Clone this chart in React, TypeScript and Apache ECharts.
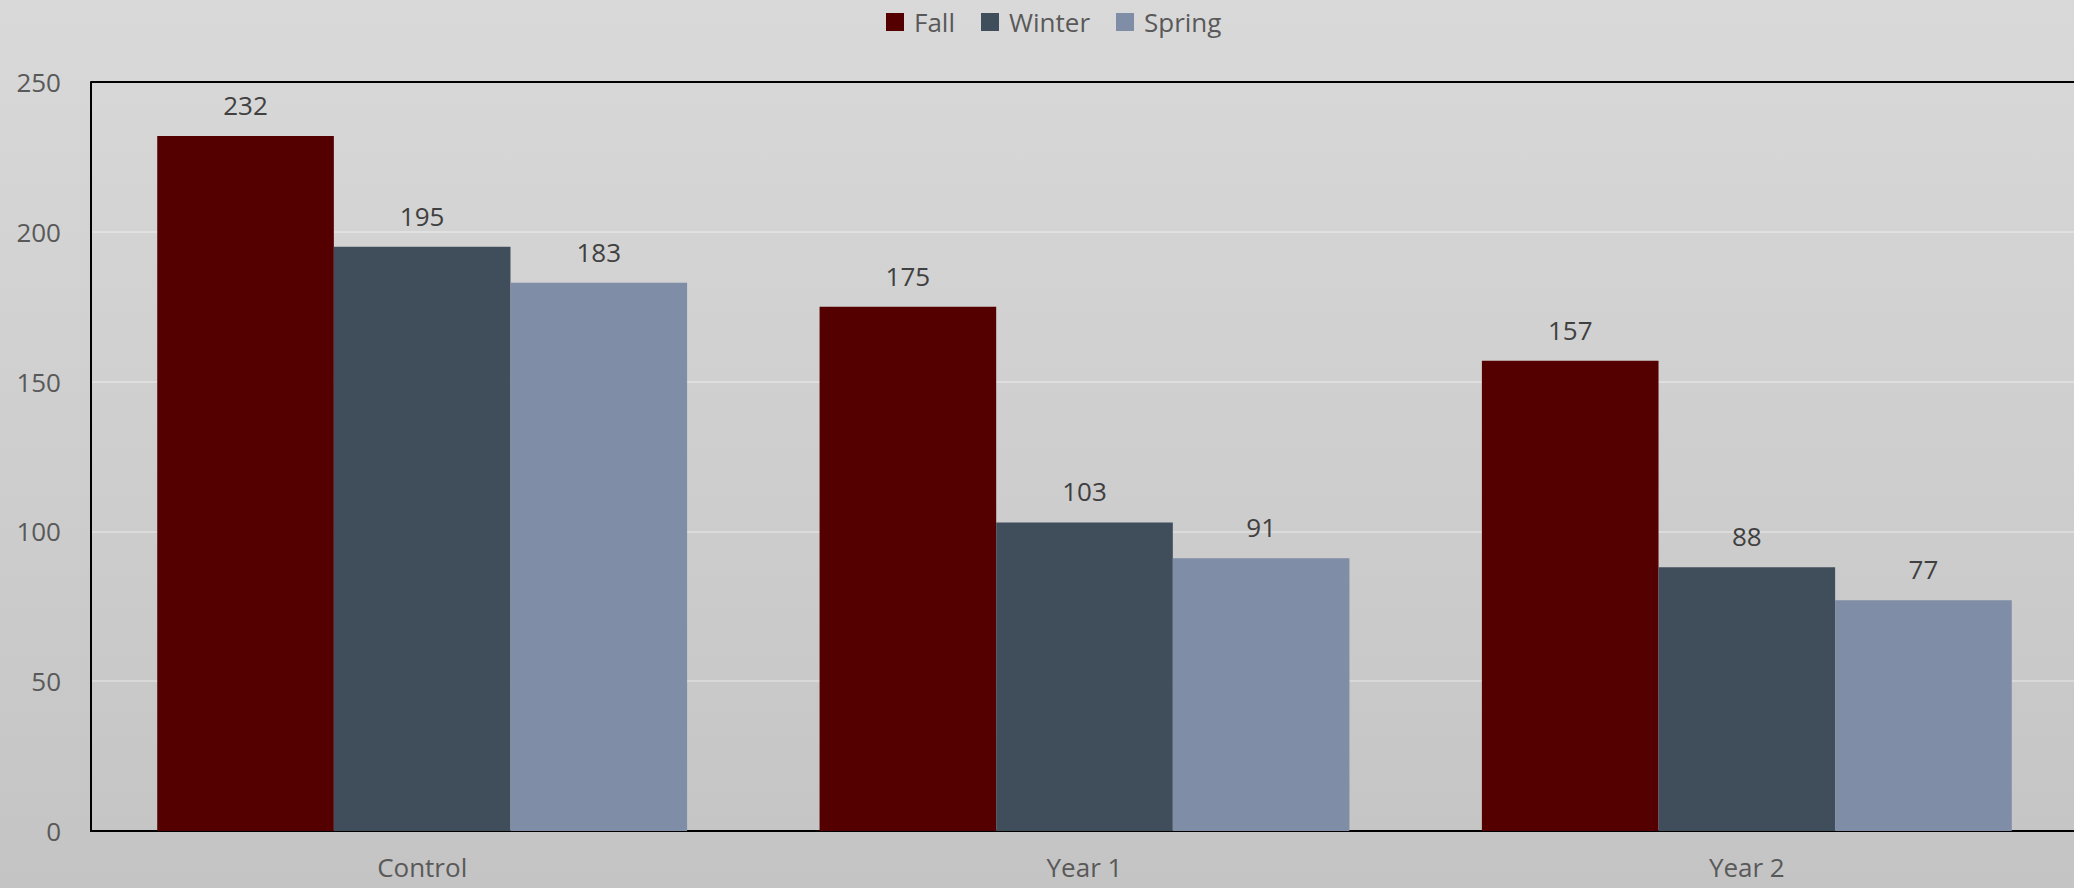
import React, { useEffect, useRef } from "react";
import * as echarts from "echarts";

const categories = ["Control", "Year 1", "Year 2"];
const fall = [232, 175, 157];
const winter = [195, 103, 88];
const spring = [183, 91, 77];
const seriesNames = ["Fall", "Winter", "Spring"];
const colors = ["#550000", "#404D5B", "#7F8DA7"];

const FONT = "'Open Sans', 'Noto Sans', sans-serif";
const GRID_LINE = "rgba(255,255,255,0.3)";

export default function App() {
  const ref = useRef<HTMLDivElement>(null);
  useEffect(() => {
    if (!ref.current) return;
    const chart = echarts.init(ref.current, undefined, { renderer: "svg" });
    const values = [fall, winter, spring];
    chart.setOption({
      animation: false,
      backgroundColor: {
        type: "linear",
        x: 0,
        y: 0,
        x2: 0,
        y2: 1,
        colorStops: [
          { offset: 0, color: "#d9d9d9" },
          { offset: 1, color: "#c4c4c4" },
        ],
      },
      textStyle: { fontFamily: FONT },
      legend: {
        top: 4,
        left: 881,
        itemWidth: 18,
        itemHeight: 18,
        itemGap: 26,
        icon: "rect",
        textStyle: { fontSize: 26, color: "#595959", fontFamily: FONT, padding: [0, 0, 0, 5] },
        data: seriesNames,
      },
      grid: {
        left: 91,
        width: 1987,
        top: 82,
        bottom: 57,
        containLabel: false,
        outerBoundsMode: "none",
      },
      xAxis: {
        type: "category",
        data: categories,
        axisLine: { show: true, lineStyle: { color: "#000000", width: 2 } },
        axisTick: { show: false },
        splitLine: { show: false },
        axisLabel: { fontSize: 26, color: "#595959", margin: 23, fontFamily: FONT },
      },
      yAxis: {
        type: "value",
        min: 0,
        max: 250,
        interval: 50,
        axisLine: { show: true, lineStyle: { color: "#000000", width: 2 } },
        axisTick: { show: false },
        axisLabel: { fontSize: 26, color: "#595959", margin: 30, fontFamily: FONT },
        splitLine: {
          show: true,
          lineStyle: {
            color: [GRID_LINE, GRID_LINE, GRID_LINE, GRID_LINE, GRID_LINE, "#000000"],
            width: 2,
          },
        },
      },
      series: seriesNames.map((name, i) => ({
        name,
        type: "bar",
        data: values[i],
        barGap: "0%",
        barCategoryGap: "20%",
        itemStyle: { color: colors[i] },
        label: {
          show: true,
          position: "top",
          distance: 18,
          fontSize: 26,
          color: "#404040",
          fontFamily: FONT,
        },
      })),
    });
    return () => chart.dispose();
  }, []);
  return (
    <div
      ref={ref}
      style={{ position: "fixed", left: 0, top: 0, width: 2074, height: 888 }}
    />
  );
}
